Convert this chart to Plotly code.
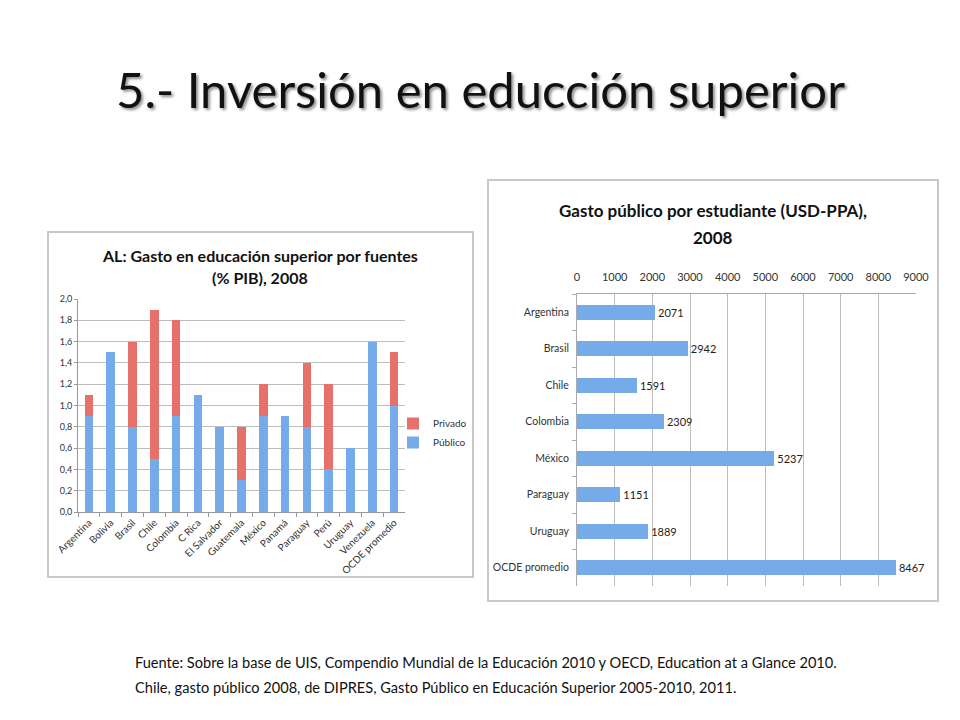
import plotly.graph_objects as go

# ---------------- data ----------------
paises_al = ["Argentina", "Bolivia", "Brasil", "Chile", "Colombia", "C Rica", "El Salvador",
             "Guatemala", "México", "Panamá", "Paraguay", "Perú", "Uruguay", "Venezuela",
             "OCDE promedio"]
publico = [0.9, 1.5, 0.8, 0.5, 0.9, 1.1, 0.8, 0.3, 0.9, 0.9, 0.8, 0.4, 0.6, 1.6, 1.0]
privado = [0.2, 0.0, 0.8, 1.4, 0.9, 0.0, 0.0, 0.5, 0.3, 0.0, 0.6, 0.8, 0.0, 0.0, 0.5]

paises_gasto = ["Argentina", "Brasil", "Chile", "Colombia", "México", "Paraguay", "Uruguay",
                "OCDE promedio"]
gasto = [2071, 2942, 1591, 2309, 5237, 1151, 1889, 8467]

W, H = 960, 720
OFF = 8  # page body margin
def px(x):
    return (x - OFF) / W
def py(y):
    return 1 - (y - OFF) / H

FONT = "Lato"
fig = go.Figure()

fig.add_trace(go.Bar(x=paises_al, y=publico, name="Público",
                     marker=dict(color="#74abe8", line=dict(width=0)),
                     xaxis="x", yaxis="y", legendgroup="a"))
fig.add_trace(go.Bar(x=paises_al, y=privado, name="Privado",
                     marker=dict(color="#e8706b", line=dict(width=0)),
                     xaxis="x", yaxis="y", legendgroup="a"))

fig.add_trace(go.Bar(y=paises_gasto, x=gasto, orientation="h", showlegend=False,
                     marker=dict(color="#74abe8", line=dict(width=0)),
                     text=[str(v) for v in gasto], textposition="outside",
                     textfont=dict(family=FONT, size=11, color="#222"),
                     cliponaxis=False, xaxis="x2", yaxis="y2"))

fig.update_layout(
    width=W, height=H, margin=dict(l=0, r=0, t=0, b=0, autoexpand=False),
    paper_bgcolor="white", plot_bgcolor="white",
    barmode="stack", bargap=0.6,
    separators=",.",
    font=dict(family=FONT, color="#333"),
    xaxis=dict(domain=[px(78), px(405)], anchor="y", tickangle=-45, automargin=False,
               tickfont=dict(size=10, color="#333"), showgrid=False,
               showline=True, linecolor="#999", ticks="outside", tickson="boundaries",
               ticklen=4, tickcolor="#999"),
    yaxis=dict(domain=[py(512), py(299)], anchor="x", range=[0, 2.0], dtick=0.2,
               automargin=False,
               tickformat=".1f", tickfont=dict(size=9, color="#333"),
               showgrid=True, gridcolor="#bdbdbd", showline=True, linecolor="#999",
               ticks="outside", ticklen=3, tickcolor="#999", zeroline=False),
    xaxis2=dict(domain=[px(577), px(916)], anchor="y2", side="top", range=[0, 9000],
                automargin=False, ticklabelstandoff=8,
                dtick=1000, tickformat="d", tickfont=dict(size=11, color="#333"),
                showgrid=True, gridcolor="#bdbdbd", showline=True, linecolor="#aaa",
                zeroline=False, ticks=""),
    yaxis2=dict(domain=[py(586), py(294)], anchor="x2", autorange="reversed",
                automargin=False, ticklabelstandoff=5,
                tickfont=dict(size=10.5, color="#333"), showline=True, linecolor="#aaa",
                ticks="outside", tickson="boundaries", ticklen=4, tickcolor="#aaa"),
    legend=dict(x=px(393), y=py(409), xanchor="left", yanchor="top",
                traceorder="reversed", font=dict(size=10, color="#333"),
                itemwidth=30, tracegroupgap=0, bgcolor="rgba(0,0,0,0)"),
    shapes=[
        dict(type="rect", xref="paper", yref="paper", x0=px(48), x1=px(473),
             y0=py(577), y1=py(232), line=dict(color="#c8c8c8", width=2), layer="below"),
        dict(type="rect", xref="paper", yref="paper", x0=px(488), x1=px(938),
             y0=py(601), y1=py(180), line=dict(color="#c8c8c8", width=2), layer="below"),
    ],
    annotations=[
        dict(text="5.- Inversión en educción superior", xref="paper", yref="paper",
             x=px(480), y=py(89), xanchor="center", yanchor="middle", showarrow=False,
             font=dict(family=FONT, size=49, color="#111",
                       shadow="2px 2px 3px rgba(0,0,0,0.45)")),
        dict(text="<b>AL: Gasto en educación superior por fuentes</b>",
             xref="paper", yref="paper", x=px(260), y=py(255), xanchor="center",
             yanchor="middle", showarrow=False,
             font=dict(family=FONT, size=16, color="#111")),
        dict(text="<b>(% PIB), 2008</b>",
             xref="paper", yref="paper", x=px(260), y=py(277), xanchor="center",
             yanchor="middle", showarrow=False,
             font=dict(family=FONT, size=16, color="#111")),
        dict(text="<b>Gasto público por estudiante (USD-PPA),</b>",
             xref="paper", yref="paper", x=px(713), y=py(210), xanchor="center",
             yanchor="middle", showarrow=False,
             font=dict(family=FONT, size=17, color="#111")),
        dict(text="<b>2008</b>",
             xref="paper", yref="paper", x=px(713), y=py(238), xanchor="center",
             yanchor="middle", showarrow=False,
             font=dict(family=FONT, size=17, color="#111")),
        dict(text="Fuente: Sobre la base de UIS, Compendio Mundial de la Educación 2010 y OECD, "
                  "Education at a Glance 2010.",
             xref="paper", yref="paper", x=px(133), y=py(662), xanchor="left",
             yanchor="middle", align="left", showarrow=False,
             font=dict(family=FONT, size=14.6, color="#111")),
        dict(text="Chile, gasto público 2008, de DIPRES, "
                  "Gasto Público en Educación Superior 2005-2010, 2011.",
             xref="paper", yref="paper", x=px(133), y=py(687), xanchor="left",
             yanchor="middle", align="left", showarrow=False,
             font=dict(family=FONT, size=14.6, color="#111")),
    ],
)

fig.write_html("out.html")
